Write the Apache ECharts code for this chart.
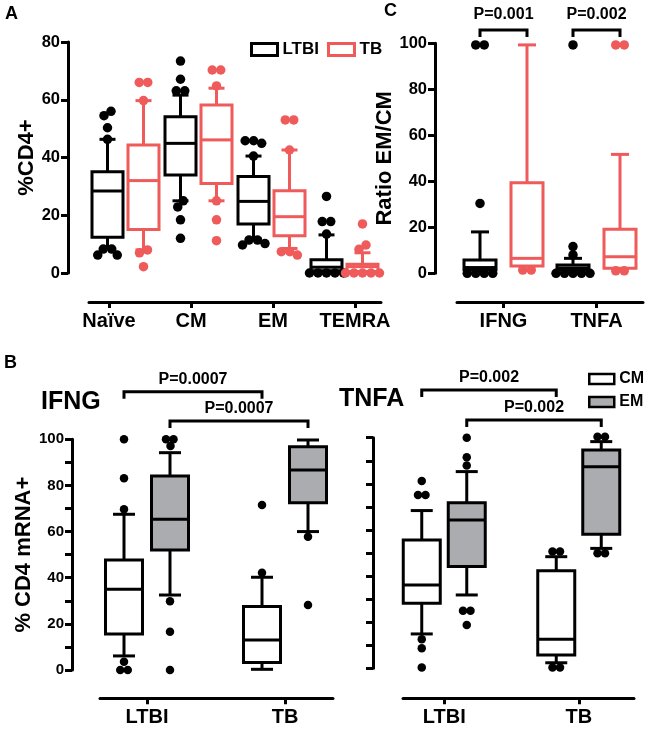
<!DOCTYPE html>
<html><head><meta charset="utf-8">
<script src="https://cdn.jsdelivr.net/npm/echarts@6/dist/echarts.min.js"></script>
<style>html,body{margin:0;padding:0;background:#fff}#c{width:646px;height:729px}</style>
</head><body><div id="c"></div>
<script>
// ---------------- data ----------------
// Panel A : % of CD4+ in each memory subset ([min, Q1, median, Q3, max] + points beyond whiskers)
const catsA = ['Naïve', 'CM', 'EM', 'TEMRA'];
const aLtbiBox = [[8.5, 12.4, 28.4, 35.1, 46.3], [25.0, 33.9, 44.9, 54.1, 61.6], [12.0, 17.0, 24.8, 33.4, 40.5], [0, 0.8, 2.0, 4.6, 13.2]];
const aLtbiOut = [[56, 54.5, 50.3, 46.3, 8.3, 8.3, 6.2, 6.2], [73.4, 67.1, 63.1, 63.1, 25.0, 22.9, 18.4, 12.0], [45.8, 45.8, 44.9, 40.5, 11.4, 11.4, 10.2, 9.7], [26.5, 17.8, 17.8, 13.5, 0, 0, 0, 0, 0]];
const aTbBox = [[8.0, 15.1, 32.0, 44.3, 59.7], [25.0, 31.0, 46.1, 58.2, 64.0], [8.5, 12.9, 19.5, 28.5, 42.6], [0, 0.5, 2.2, 3.0, 7.0]];
const aTbOut = [[66, 66, 59.7, 8, 7, 2.2], [70.3, 70.3, 64.8, 25, 18.4, 11.2], [53, 53, 42.6, 7.4, 7.4, 6.2], [17, 9.7, 8.2, 0, 0, 0, 0, 0]];
const yTicksA = [0, 20, 40, 60, 80];

// Panel C : ratio EM/CM
const catsC = ['IFNG', 'TNFA'];
const cLtbiBox = [[0, 1.5, 2.5, 5.8, 18], [0, 1.4, 2.3, 3.6, 6.5]];
const cLtbiOut = [[99.3, 99.3, 30.4, 0, 0, 0, 0], [99.3, 11.6, 8.0, 0, 0, 0, 0, 0]];
const cTbBox = [[3.2, 3.2, 6.5, 39.4, 99.3], [2.2, 2.2, 7.2, 19.1, 51.7]];
const cTbOut = [[1.4, 1.4], [99.3, 99.3, 1.1, 1.1]];
const yTicksC = [0, 20, 40, 60, 80, 100];
const pvalC = ['P=0.001', 'P=0.002'];

// Panel B : % CD4 mRNA+
const catsB = ['LTBI', 'TB'];
const bIfngCmBox = [[6.1, 15.6, 35.0, 47.7, 67.5], [0.3, 3.2, 13.0, 27.5, 40.2]];
const bIfngCmOut = [[100, 83.1, 69.7, 3.6, 0, 0], [71.5, 42.2]];
const bIfngEmBox = [[32.5, 52.0, 65.3, 84.1, 94.2], [60.0, 72.5, 86.7, 96.8, 99.7]];
const bIfngEmOut = [[100, 100, 97.1, 29.8, 16.6, 0], [57.8, 28.2]];
const bTnfaCmBox = [[14.9, 28.2, 36.1, 55.6, 68.4], [2.4, 5.8, 12.6, 42.3, 48.4]];
const bTnfaCmOut = [[81.2, 75.2, 75.2, 12.6, 8.7, 0.3], [50.6, 50.6, 0.3, 0.3]];
const bTnfaEmBox = [[31.8, 44.1, 64.3, 71.8, 85.3], [52.0, 58.1, 87.4, 94.7, 98.3]];
const bTnfaEmOut = [[100, 91.5, 87.9, 25.0, 25.0, 18.8], [100.4, 100.4, 49.9, 49.9]];
const yTicksB = [0, 10, 20, 30, 40, 50, 60, 70, 80, 90, 100];
const pvalBIfng = ['P=0.0007', 'P=0.0007'];
const pvalBTnfa = ['P=0.002', 'P=0.002'];

// ---------------- style ----------------
const FONT = '"Liberation Sans", Arial, Helvetica, sans-serif';
const RED = '#ef5a5a';
const GREY = '#abacaf';
const BLACK = '#000';

function swarm(ys, d) {
  const minD = d * 0.85;
  const placed = [];
  ys.forEach(y => {
    let x = 0;
    outer: for (let s = 0; s < 200; s += 0.5) {
      const cands = s === 0 ? [0] : [-s, s];
      for (const c of cands) {
        if (placed.every(p => Math.hypot(p[0] - c, p[1] - y) >= minD)) { x = c; break outer; }
      }
    }
    placed.push([x, y]);
  });
  const idx = placed.map((p, i) => i).sort((a, b) => placed[a][1] - placed[b][1]);
  let cl = [];
  const flush = () => {
    if (cl.length) {
      const m = cl.reduce((s, i) => s + placed[i][0], 0) / cl.length;
      cl.forEach(i => { placed[i][0] -= m; });
    }
    cl = [];
  };
  idx.forEach((i, j) => {
    if (j > 0 && placed[i][1] - placed[idx[j - 1]][1] >= minD) flush();
    cl.push(i);
  });
  flush();
  return placed;
}

function boxSeries(name, axis, boxes, outs, st) {
  return {
    name, type: 'custom', xAxisIndex: axis, yAxisIndex: axis, clip: false, z: 3,
    itemStyle: { color: st.fill, borderColor: st.color, borderWidth: 3 },
    data: boxes.map((b, i) => [i].concat(b)),
    encode: { x: 0, y: [1, 2, 3, 4, 5] },
    renderItem(params, api) {
      const i = params.dataIndex;
      const cat = api.value(0);
      const cx = api.coord([cat, 0])[0] + st.shift;
      const Y = v => api.coord([cat, v])[1];
      const mn = api.value(1), q1 = api.value(2), md = api.value(3), q3 = api.value(4), mx = api.value(5);
      const hw = st.boxW / 2, cw = st.capW / 2;
      const ls = { stroke: st.color, lineWidth: st.lw, fill: null };
      const ch = [];
      ch.push({ type: 'line', shape: { x1: cx, y1: Y(q3), x2: cx, y2: Y(mx) }, style: ls });
      ch.push({ type: 'line', shape: { x1: cx - cw, y1: Y(mx), x2: cx + cw, y2: Y(mx) }, style: ls });
      ch.push({ type: 'line', shape: { x1: cx, y1: Y(q1), x2: cx, y2: Y(mn) }, style: ls });
      ch.push({ type: 'line', shape: { x1: cx - cw, y1: Y(mn), x2: cx + cw, y2: Y(mn) }, style: ls });
      ch.push({ type: 'rect', shape: { x: cx - hw, y: Y(q3), width: st.boxW, height: Y(q1) - Y(q3) }, style: { fill: st.fill, stroke: st.color, lineWidth: st.lw } });
      ch.push({ type: 'line', shape: { x1: cx - hw, y1: Y(md), x2: cx + hw, y2: Y(md) }, style: ls });
      const pts = swarm(outs[i].map(v => Y(v)), st.dot);
      pts.forEach(p => ch.push({ type: 'circle', shape: { cx: cx + p[0], cy: p[1], r: st.dot / 2 }, style: { fill: st.dotColor || st.color } }));
      return { type: 'group', children: ch };
    }
  };
}

function bracketSeries(axis, defs, texts, st) {
  return {
    type: 'custom', xAxisIndex: axis, yAxisIndex: axis, clip: false, silent: true, z: 4,
    data: defs.map((d, i) => [i]),
    encode: { x: 0 },
    renderItem(params, api) {
      const d = defs[params.dataIndex];
      const top = params.coordSys.y;
      const x1 = api.coord([d.a[0], 0])[0] + d.a[1] * st.shift;
      const x2 = api.coord([d.b[0], 0])[0] + d.b[1] * st.shift;
      const lv = top - d.up;
      return {
        type: 'group', children: [
          { type: 'polyline', shape: { points: [[x1, lv + st.leg], [x1, lv], [x2, lv], [x2, lv + st.leg]] }, style: { stroke: BLACK, lineWidth: 3, fill: null } },
          { type: 'text', style: { text: texts[params.dataIndex], x: (x1 + x2) / 2, y: lv - st.gap, textAlign: 'center', textVerticalAlign: 'middle', font: 'bold 16px ' + FONT, fill: BLACK } }
        ]
      };
    }
  };
}

const axLine = { show: true, onZero: false, lineStyle: { color: BLACK, width: 3 } };
const axTick = (len) => ({ show: true, length: len, lineStyle: { color: BLACK, width: 3 } });
const lblStyle = (size, margin) => ({ color: BLACK, fontWeight: 'bold', fontSize: size, fontFamily: FONT, margin });

function yAx(grid, ticks, offset, label, name, nameGap, fmt) {
  return {
    type: 'value', gridIndex: grid, min: ticks[0], max: ticks[ticks.length - 1], interval: ticks[1] - ticks[0], offset,
    axisLine: axLine, axisTick: axTick(7), splitLine: { show: false },
    axisLabel: Object.assign({ show: !!label, formatter: fmt || (v => String(v)) }, lblStyle(label === 'B' ? 15 : 16.5, 8)),
    name, nameLocation: 'middle', nameRotate: 90, nameGap,
    nameTextStyle: { color: BLACK, fontWeight: 'bold', fontSize: 22, fontFamily: FONT }
  };
}
function yHidden(grid, ticks) {
  return { type: 'value', gridIndex: grid, show: false, min: ticks[0], max: ticks[ticks.length - 1] };
}
function xLineOnly(grid, cats, offset) {
  return { type: 'category', gridIndex: grid, data: cats, offset, axisLine: axLine, axisTick: { show: false }, axisLabel: { show: false } };
}
function xTicks(grid, cats, offset, showLine) {
  return {
    type: 'category', gridIndex: grid, data: cats, offset,
    axisLine: showLine ? axLine : { show: false, onZero: false },
    axisTick: Object.assign(axTick(6), { alignWithLabel: true, interval: 0 }),
    axisLabel: Object.assign(lblStyle(20, 9), { interval: 0 })
  };
}

const option = {
  animation: false,
  backgroundColor: '#fff',
  grid: [
    { left: 89, top: 42, width: 292, height: 231 },   // 0 A boxes
    { left: 68, top: 42, width: 328, height: 231 },   // 1 A tick labels
    { left: 457, top: 43.3, width: 186, height: 230 }, // 2 C
    { left: 78, top: 439.3, width: 276, height: 230.7 }, // 3 B IFNG
    { left: 100, top: 439.3, width: 233, height: 230.7 }, // 4 B IFNG line
    { left: 377, top: 437.7, width: 280, height: 230.6 }, // 5 B TNFA
    { left: 403, top: 437.7, width: 231, height: 230.6 }  // 6 B TNFA line
  ],
  xAxis: [
    xLineOnly(0, catsA, 29),
    xTicks(1, catsA, 29, false),
    xTicks(2, catsC, 28.7, true),
    xTicks(3, catsB, 28.3, false),
    xLineOnly(4, catsB, 28.3),
    xTicks(5, catsB, 30, false),
    xLineOnly(6, catsB, 30)
  ],
  yAxis: [
    yAx(0, yTicksA, 21, true, '%CD4+', 30),
    yHidden(1, yTicksA),
    yAx(2, yTicksC, 22, true, 'Ratio EM/CM', 30),
    yAx(3, yTicksB, 6, 'B', '% CD4 mRNA+', 34, v => (v % 20 === 0 ? String(v) : '')),
    yHidden(4, yTicksB),
    yAx(5, yTicksB, 4, false, '', 0),
    yHidden(6, yTicksB)
  ],
  legend: [
    {
      left: 245, top: 36, orient: 'horizontal', itemWidth: 26, itemHeight: 12, itemGap: 8, icon: 'rect', selectedMode: false,
      textStyle: { color: BLACK, fontWeight: 'bold', fontSize: 17, fontFamily: FONT },
      data: [
        { name: 'LTBI', itemStyle: { color: '#fff', borderColor: BLACK, borderWidth: 3 } },
        { name: 'TB', itemStyle: { color: '#fff', borderColor: RED, borderWidth: 3 } }
      ]
    },
    {
      left: 583, top: 366, orient: 'vertical', itemWidth: 25, itemHeight: 10, itemGap: 7, icon: 'rect', selectedMode: false,
      textStyle: { color: BLACK, fontWeight: 'bold', fontSize: 16, fontFamily: FONT },
      data: [
        { name: 'CM', itemStyle: { color: '#fff', borderColor: BLACK, borderWidth: 2.5 } },
        { name: 'EM', itemStyle: { color: GREY, borderColor: BLACK, borderWidth: 2.5 } }
      ]
    }
  ],
  series: [
    boxSeries('LTBI', 0, aLtbiBox, aLtbiOut, { color: BLACK, fill: '#fff', shift: -18, boxW: 31, capW: 16, lw: 3, dot: 9.5 }),
    boxSeries('TB', 0, aTbBox, aTbOut, { color: RED, fill: '#fff', shift: 18, boxW: 31, capW: 16, lw: 3, dot: 9.5 }),
    boxSeries('LTBI', 2, cLtbiBox, cLtbiOut, { color: BLACK, fill: '#fff', shift: -23.5, boxW: 32, capW: 18, lw: 3, dot: 9.5 }),
    boxSeries('TB', 2, cTbBox, cTbOut, { color: RED, fill: '#fff', shift: 23.5, boxW: 32, capW: 18, lw: 3, dot: 9.5 }),
    bracketSeries(2, [{ a: [0, -1], b: [0, 1], up: 13.3 }, { a: [1, -1], b: [1, 1], up: 13.3 }], pvalC, { shift: 23.5, leg: 7, gap: 15 }),
    boxSeries('CM', 3, bIfngCmBox, bIfngCmOut, { color: BLACK, fill: '#fff', shift: -23, boxW: 37, capW: 22, lw: 3, dot: 8.5 }),
    boxSeries('EM', 3, bIfngEmBox, bIfngEmOut, { color: BLACK, fill: GREY, dotColor: BLACK, shift: 23, boxW: 37, capW: 22, lw: 3, dot: 8.5 }),
    bracketSeries(3, [{ a: [0, -1], b: [1, -1], up: 47.6 }, { a: [0, 1], b: [1, 1], up: 18.3 }], pvalBIfng, { shift: 23, leg: 7, gap: 12 }),
    boxSeries('CM', 5, bTnfaCmBox, bTnfaCmOut, { color: BLACK, fill: '#fff', shift: -22.5, boxW: 37, capW: 22, lw: 3, dot: 8.5 }),
    boxSeries('EM', 5, bTnfaEmBox, bTnfaEmOut, { color: BLACK, fill: GREY, dotColor: BLACK, shift: 22.5, boxW: 37, capW: 22, lw: 3, dot: 8.5 }),
    bracketSeries(5, [{ a: [0, -1], b: [1, -1], up: 47.7 }, { a: [0, 1], b: [1, 1], up: 17.7 }], pvalBTnfa, { shift: 22.5, leg: 7, gap: 12 })
  ],
  graphic: [
    { type: 'text', left: 5, top: 5, style: { text: 'A', font: 'bold 18px ' + FONT, fill: BLACK } },
    { type: 'text', left: 384, top: 2, style: { text: 'C', font: 'bold 18px ' + FONT, fill: BLACK } },
    { type: 'text', left: 4, top: 354, style: { text: 'B', font: 'bold 18px ' + FONT, fill: BLACK } },
    { type: 'text', left: 41, top: 390, style: { text: 'IFNG', font: 'bold 25px ' + FONT, fill: BLACK } },
    { type: 'text', left: 339, top: 387, style: { text: 'TNFA', font: 'bold 25px ' + FONT, fill: BLACK } }
  ]
};

const chart = echarts.init(document.getElementById('c'), null, { renderer: 'canvas' });
chart.setOption(option);
</script>
</body></html>
